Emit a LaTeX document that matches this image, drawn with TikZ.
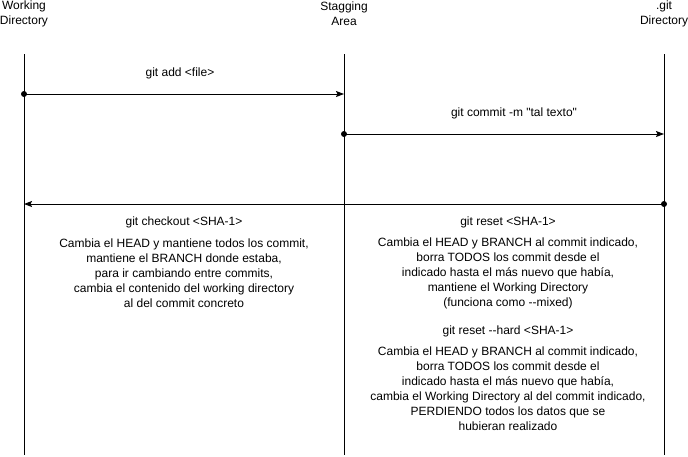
\documentclass[tikz,border=0pt]{standalone}
\usepackage{fontspec}
\setmainfont{Liberation Sans}[Ligatures=TeXOff]
\usetikzlibrary{arrows.meta}
\begin{document}
\begin{tikzpicture}[x=1pt,y=-1pt,line width=1pt,font=\fontsize{12}{15}\selectfont,
  dot/.style={circle,fill,inner sep=0pt,minimum size=6pt},
  msg/.style={-{Stealth[length=8pt,width=6pt,inset=1.5pt]}},
  txt/.style={align=center,inner sep=0pt}]
\useasboundingbox (0,0) rectangle (688,456);
% columns
\node[txt] (wd) at (24,14) {Working\\Directory};
\node[txt] (sa) at (344,14) {Stagging\\Area};
\node[txt] (gd) at (664,14) {.git\\Directory};
\foreach \c/\x in {wd/24, sa/344, gd/664} {
  \coordinate (\c t) at (\x,54); \coordinate (\c b) at (\x,455);
  \draw (\c t) -- (\c b);
}
% messages
\coordinate (add1) at (24,94); \coordinate (add2) at (344,94);
\coordinate (com1) at (344,134); \coordinate (com2) at (664,134);
\coordinate (back1) at (664,204); \coordinate (back2) at (24,204);
\foreach \a/\b in {add1/add2, com1/com2, back1/back2} {
  \draw[msg] (\a) -- (\b); \node[dot] at (\a) {};
}
\node[txt] (addl) at (180,73) {git add <file>};
\node[txt] (coml) at (514,113) {git commit -m "tal texto"};
% checkout
\node[txt] (cko) at (184,222) {git checkout <SHA-1>};
\node[txt] (ckod) at (184,273) {Cambia el HEAD y mantiene todos los commit,\\mantiene el BRANCH donde estaba,\\para ir cambiando entre commits,\\cambia el contenido del working directory\\al del commit concreto};
% reset
\node[txt] (rst) at (508,222) {git reset <SHA-1>};
\node[txt] (rstd) at (508,273) {Cambia el HEAD y BRANCH al commit indicado,\\borra TODOS los commit desde el\\indicado hasta el más nuevo que había,\\mantiene el Working Directory\\(funciona como --mixed)};
\node[txt] (hrd) at (508,331) {git reset --hard <SHA-1>};
\node[txt] (hrdd) at (508,389) {Cambia el HEAD y BRANCH al commit indicado,\\borra TODOS los commit desde el\\indicado hasta el más nuevo que había,\\cambia el Working Directory al del commit indicado,\\PERDIENDO todos los datos que se\\hubieran realizado};
\end{tikzpicture}
\end{document}
